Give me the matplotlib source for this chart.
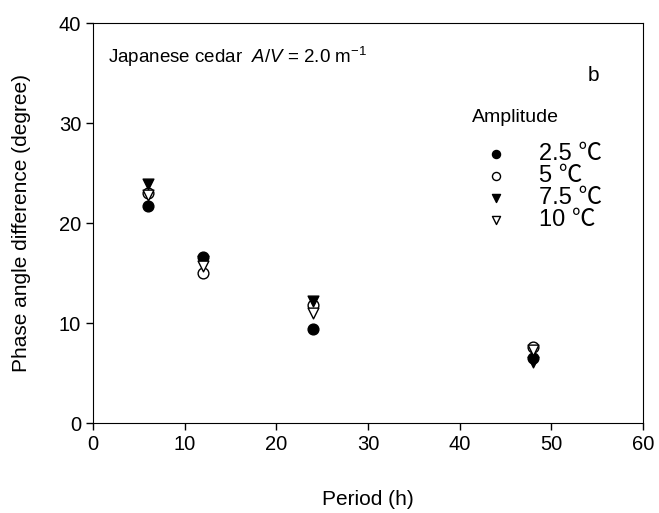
import numpy as np
import matplotlib.pyplot as plt

plt.rcParams['font.family'] = ['Liberation Sans', 'Noto Sans CJK SC', 'DejaVu Sans']
plt.rcParams['mathtext.fontset'] = 'custom'
plt.rcParams['mathtext.rm'] = 'Liberation Sans'
plt.rcParams['mathtext.it'] = 'Liberation Sans:italic'

period = [6, 12, 24, 48]
amp_labels = ['2.5 ℃', '5 ℃', '7.5 ℃', '10 ℃']
phase_25 = [21.7, 16.6, 9.4, 6.5]
phase_5 = [23.0, 15.0, 11.8, 7.6]
phase_75 = [23.9, 16.2, 12.2, 6.1]
phase_10 = [22.8, 15.7, 11.0, 7.3]

fig = plt.figure(figsize=(6.59, 5.13), dpi=100)
ax = fig.add_axes([0.141, 0.175, 0.835, 0.78])

styles = [('o', 'k'), ('o', 'w'), ('v', 'k'), ('v', 'w')]
series = [phase_25, phase_5, phase_75, phase_10]
handles = []
for vals, (m, fc), lab in zip(series, styles, amp_labels):
    h = ax.scatter(period, vals, marker=m, s=60, facecolors=fc,
                   edgecolors='k', linewidths=1.0, label=lab, zorder=3)
    handles.append(h)

ax.set_xlim(0, 60)
ax.set_ylim(0, 40)
ax.set_xticks(np.arange(0, 61, 10))
ax.set_yticks(np.arange(0, 41, 10))
ax.tick_params(direction='out', length=5, labelsize=14.5, width=1)
ax.set_xlabel('Period (h)', fontsize=15, labelpad=26)
ax.set_ylabel('Phase angle difference (degree)', fontsize=15, labelpad=20)

ax.text(0.027, 0.915, 'Japanese cedar  $A$/$V$ = 2.0 m$^{-1}$', transform=ax.transAxes,
        fontsize=13.5, va='center')
ax.text(0.90, 0.87, 'b', transform=ax.transAxes, fontsize=15, va='center')

# legend heading drawn separately so the gap below it can be wider
ax.text(0.689, 0.765, 'Amplitude', transform=ax.transAxes, fontsize=14, va='center')
leg = ax.legend(handles=handles, loc='upper left', bbox_to_anchor=(0.689, 0.70),
                frameon=False, fontsize=17, markerscale=0.75,
                handlelength=2.0, handletextpad=0.85,
                labelspacing=0.0, borderpad=0, borderaxespad=0)

fig.savefig('out.png', dpi=100)
